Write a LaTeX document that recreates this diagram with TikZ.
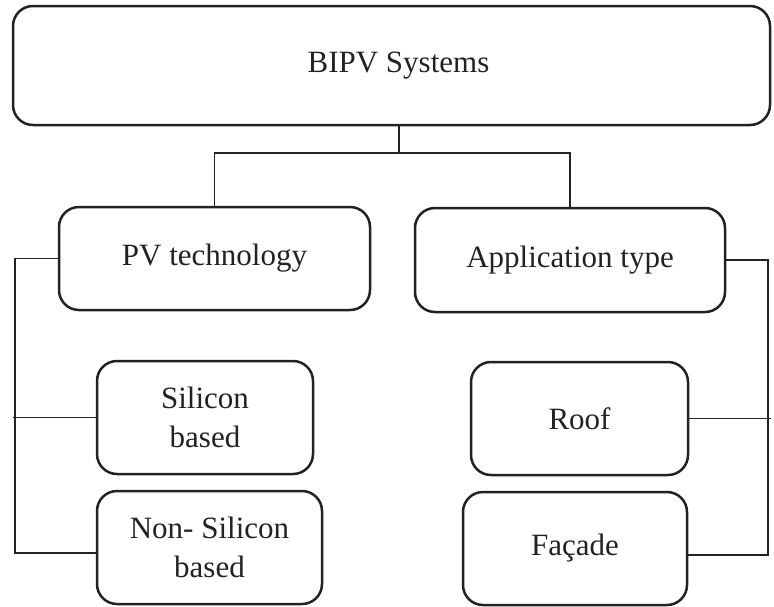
\documentclass[tikz,border=0pt]{standalone}
\usepackage{fontspec}
\setmainfont{Liberation Serif}
\definecolor{ink}{HTML}{222222}
\begin{document}
\begin{tikzpicture}[x=1pt,y=-1pt,
  boxnode/.style={draw=ink,line width=2.5pt,rounded corners=20pt,inner sep=0pt,
    align=center,text=ink,font=\fontsize{31}{39}\selectfont},
  conn/.style={draw=ink,line width=1.3pt}]
\useasboundingbox (0,0) rectangle (774,606);
\node[boxnode,minimum width=757pt,minimum height=119pt] (top) at (391.5,65.5) {\hspace*{14pt}\raisebox{-5pt}{BIPV Systems}};
\node[boxnode,minimum width=311pt,minimum height=103pt] (pv) at (214.5,258.5) {PV technology};
\node[boxnode,minimum width=310pt,minimum height=104pt] (app) at (570,260) {Application type};
\node[boxnode,minimum width=216pt,minimum height=113pt] (si) at (205,417.5) {Silicon\\based};
\node[boxnode,minimum width=225pt,minimum height=113pt] (nsi) at (209.5,547.5) {Non- Silicon\\based};
\node[boxnode,minimum width=217pt,minimum height=113pt] (roof) at (579.5,418.5) {Roof};
\node[boxnode,minimum width=224pt,minimum height=113pt] (fac) at (575,548.5) {Façade};
\coordinate (j) at (399,153);
\coordinate (lb) at (15,553);
\coordinate (ll) at (13,417);
\coordinate (rb) at (768,555);
\coordinate (rr) at (771,418);
\draw[conn] (top.south -| j) -- (j);
\draw[conn] (pv.north) |- (j);
\draw[conn] (app.north) |- (j);
\draw[conn] (pv.west) -| (lb) -- (lb -| nsi.west);
\draw[conn] (si.west) -- (si.west -| ll);
\draw[conn] (app.east) -| (rb) -- (rb -| fac.east);
\draw[conn] (roof.east) -- (roof.east -| rr);
\end{tikzpicture}
\end{document}
